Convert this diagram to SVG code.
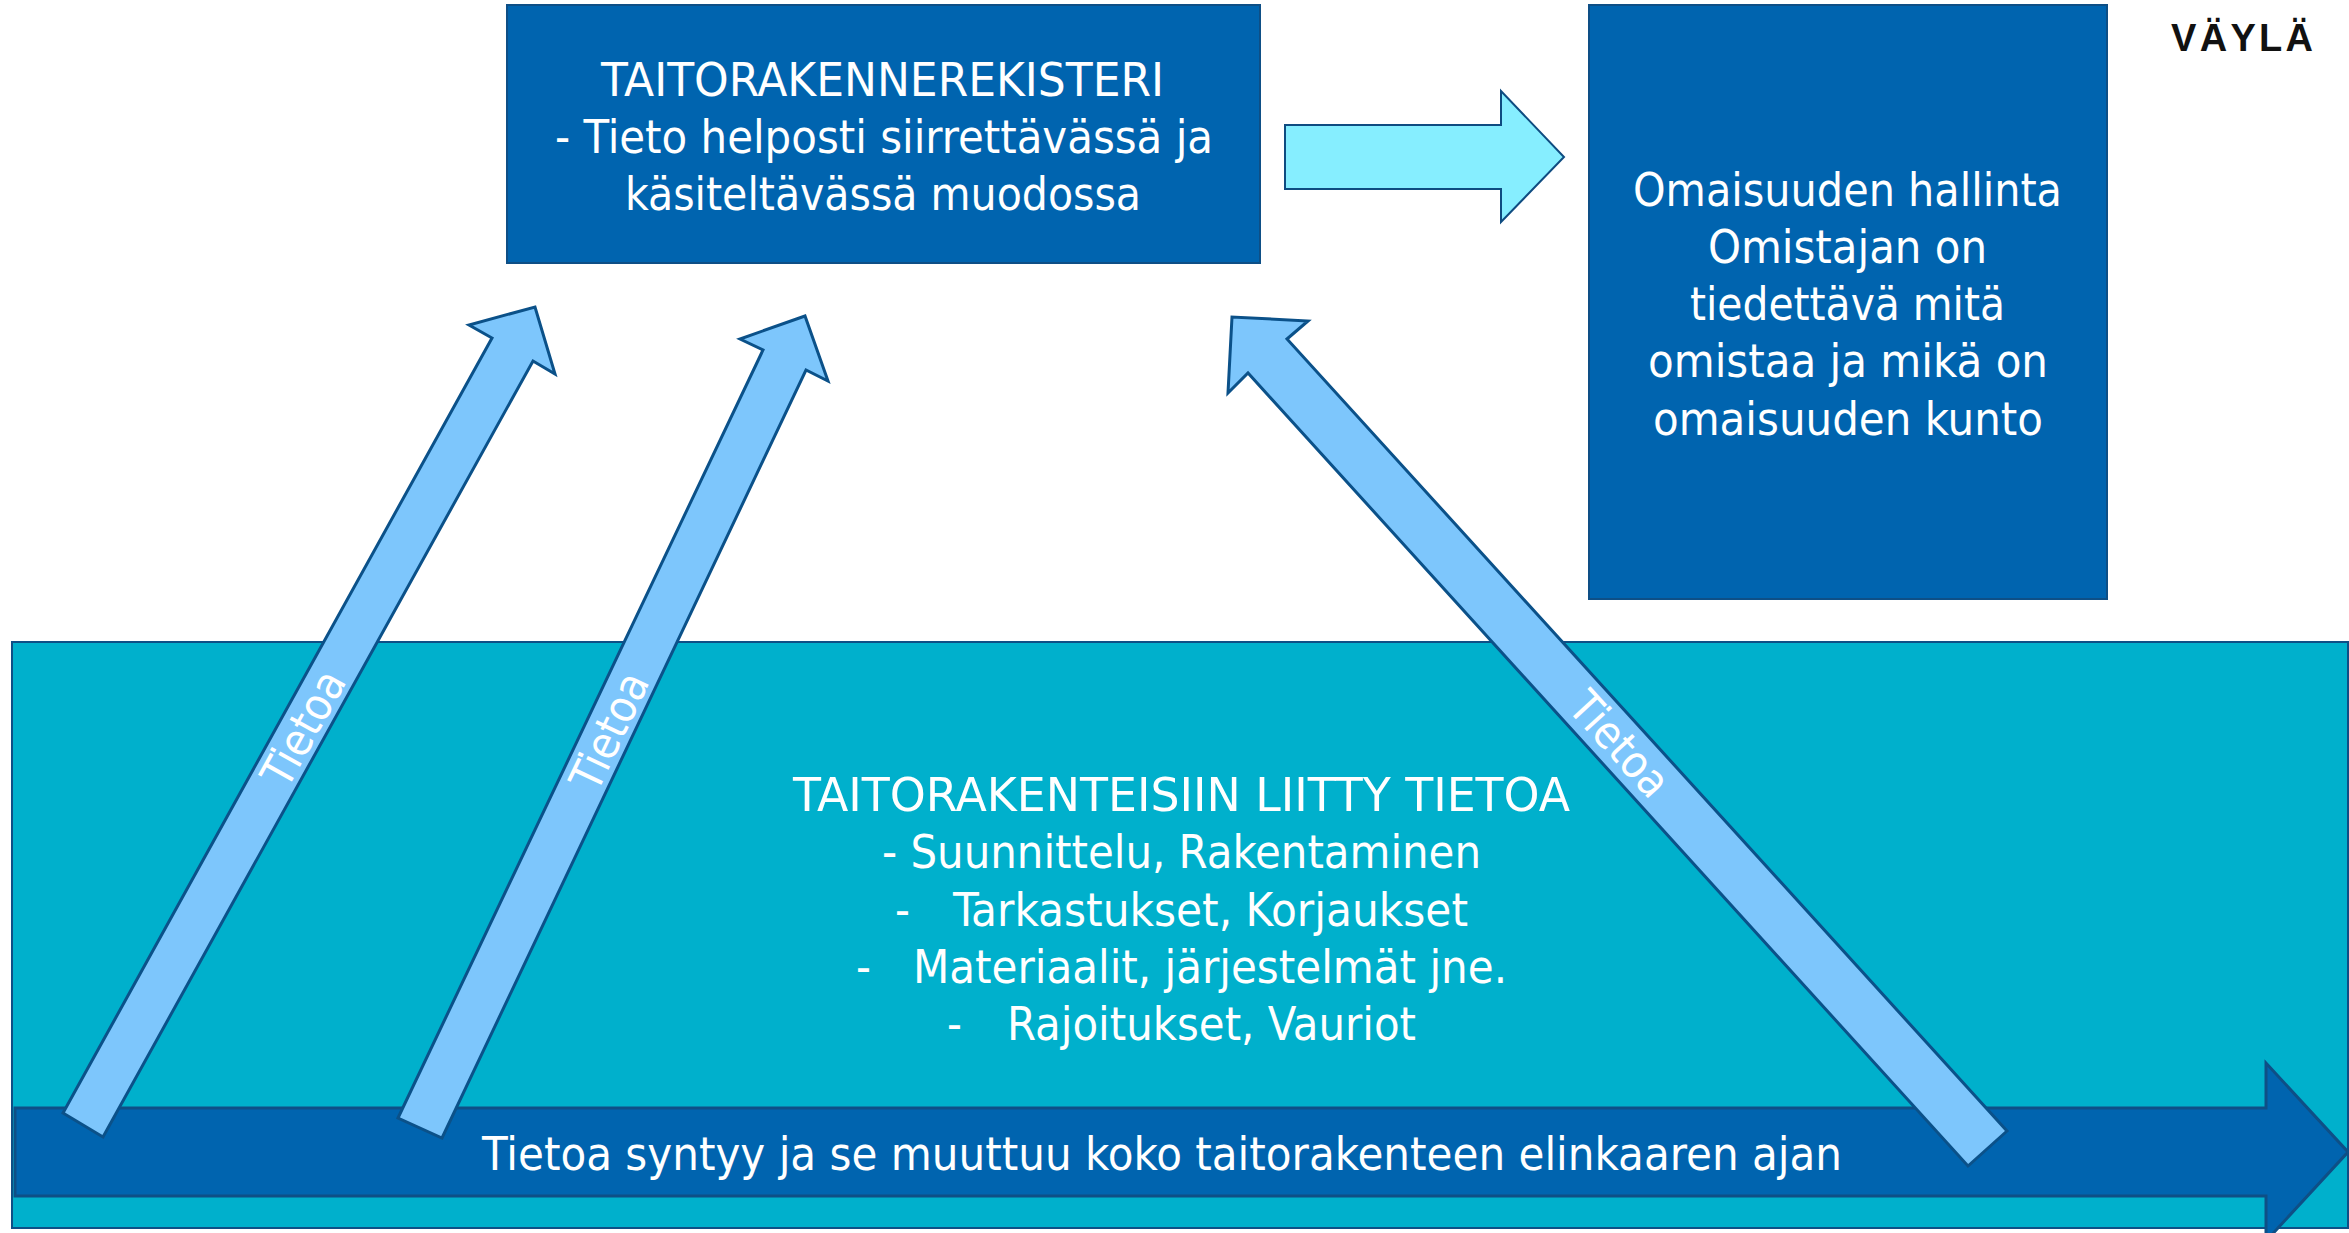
<svg xmlns="http://www.w3.org/2000/svg" width="2349" height="1233" viewBox="0 0 2349 1233">
<style>
.box{fill:#0064AF;stroke:#0E4F86;stroke-width:2}
.bg{fill:#00B0CC;stroke:#0E4F86;stroke-width:2}
.big{fill:#0064AF;stroke:#0E4F86;stroke-width:3;stroke-linejoin:miter}
.diag{fill:#7DC6FC;stroke:#0B5189;stroke-width:3;stroke-linejoin:miter}
.flow{fill:#86EEFF;stroke:#0F4C81;stroke-width:2}
.t{font-family:"DejaVu Sans Condensed","DejaVu Sans",sans-serif;font-size:46px;fill:#FFFFFF}
.lbl{font-family:"DejaVu Sans Condensed","DejaVu Sans",sans-serif;font-size:45px;fill:#FFFFFF;text-anchor:middle}
.c{text-anchor:middle}
.logo{font-family:"Liberation Sans",Arial,sans-serif;font-weight:bold;font-size:38px;fill:#111111}
</style>
<rect width="2349" height="1233" fill="#FFFFFF"/>

<g id="lifecycle-area">
  <rect class="bg" x="12" y="642" width="2336" height="586"/>
</g>

<g id="logo">
  <text class="logo" x="2171" y="51" textLength="142" lengthAdjust="spacing">VÄYLÄ</text>
</g>

<g id="connectors">
  <polygon id="lifecycle-arrow" class="big" points="15,1108 2266,1108 2266,1063 2348,1152 2266,1241 2266,1196 15,1196"/>
  <polygon id="flow-arrow" class="flow" points="1285,125 1501,125 1501,91 1564,157 1501,222 1501,189 1285,189"/>
</g>

<g id="lifecycle-text">
  <text class="t c" x="1181.5" y="811" textLength="777" lengthAdjust="spacingAndGlyphs">TAITORAKENTEISIIN LIITTY TIETOA</text>
  <text class="t c" x="1181.5" y="868" textLength="599" lengthAdjust="spacingAndGlyphs">- Suunnittelu, Rakentaminen</text>
  <text class="t" x="895" y="926">-</text>
  <text class="t c" x="1210.5" y="926" textLength="515" lengthAdjust="spacingAndGlyphs">Tarkastukset, Korjaukset</text>
  <text class="t" x="856" y="983">-</text>
  <text class="t c" x="1210" y="983" textLength="594" lengthAdjust="spacingAndGlyphs">Materiaalit, järjestelmät jne.</text>
  <text class="t" x="947" y="1040">-</text>
  <text class="t c" x="1211.5" y="1040" textLength="409" lengthAdjust="spacingAndGlyphs">Rajoitukset, Vauriot</text>
  <text class="t c" x="1162" y="1170" textLength="1360" lengthAdjust="spacingAndGlyphs">Tietoa syntyy ja se muuttuu koko taitorakenteen elinkaaren ajan</text>
</g>

<g id="taitorakennerekisteri">
  <rect class="box" x="507" y="5" width="753" height="258"/>
  <text class="t c" x="882.5" y="96" textLength="563" lengthAdjust="spacingAndGlyphs">TAITORAKENNEREKISTERI</text>
  <text class="t c" x="884" y="153" textLength="658" lengthAdjust="spacingAndGlyphs">- Tieto helposti siirrettävässä ja</text>
  <text class="t c" x="883" y="210" textLength="516" lengthAdjust="spacingAndGlyphs">käsiteltävässä muodossa</text>
</g>

<g id="omaisuuden-hallinta">
  <rect class="box" x="1589" y="5" width="518" height="594"/>
  <text class="t c" x="1847.5" y="206" textLength="429" lengthAdjust="spacingAndGlyphs">Omaisuuden hallinta</text>
  <text class="t c" x="1847.5" y="263" textLength="279" lengthAdjust="spacingAndGlyphs">Omistajan on</text>
  <text class="t c" x="1847.5" y="320" textLength="315" lengthAdjust="spacingAndGlyphs">tiedettävä mitä</text>
  <text class="t c" x="1848" y="377" textLength="400" lengthAdjust="spacingAndGlyphs">omistaa ja mikä on</text>
  <text class="t c" x="1848" y="435" textLength="390" lengthAdjust="spacingAndGlyphs">omaisuuden kunto</text>
</g>

<g id="tieto-arrows">
  <polygon id="arrow-1" class="diag" points="63,1113 492,338 469,325 535,307 555,374 533,361 103,1137"/>
  <polygon id="arrow-2" class="diag" points="398,1118 763,350 740,339 805,316 828,381 806,370 442,1138"/>
  <polygon id="arrow-3" class="diag" points="2007,1131 1287,339 1308,321 1232,317 1228,393 1248,373 1968,1166"/>
  <text class="lbl" transform="translate(303,728) rotate(-61)" y="16">Tietoa</text>
  <text class="lbl" transform="translate(609,731) rotate(-64.6)" y="16">Tietoa</text>
  <text class="lbl" transform="translate(1620,744) rotate(47.7)" y="16">Tietoa</text>
</g>
</svg>
